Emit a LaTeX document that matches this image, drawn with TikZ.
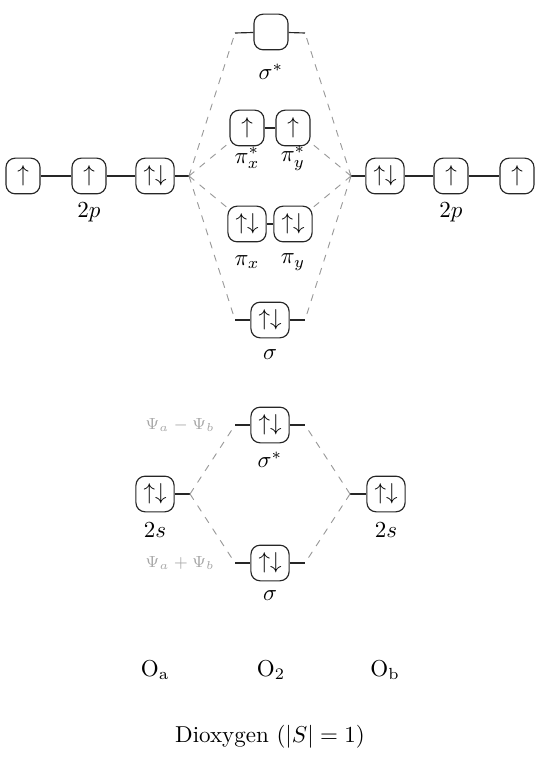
\documentclass[tikz,border=0pt]{standalone}
\begin{document}
\begin{tikzpicture}[x=0.43478pt,y=-0.43478pt,
  orb/.style={draw=black!85,line width=0.5pt,rounded corners=4pt,minimum width=14.8pt,minimum height=15.5pt,inner xsep=3.3pt,inner ysep=3pt},
  lvl/.style={draw=black!85,line width=0.5pt},
  corr/.style={draw=black!40,dashed,line width=0.4pt},
  psi/.style={text=black!35,font=\scriptsize}]
\useasboundingbox (0,0) rectangle (540,757);
% left 2p
\node[orb] (L1) at (23,176) {$\uparrow$};
\node[orb] (L2) at (89,176) {$\uparrow$};
\node[orb] (L3) at (155,176) {$\uparrow\downarrow$};
\coordinate (aL) at (189,176);
\node (L2lab) at (89,212) {$2p$};
% right 2p
\node[orb] (R3) at (385,176) {$\uparrow\downarrow$};
\node[orb] (R2) at (451,176) {$\uparrow$};
\node[orb] (R1) at (517,176) {$\uparrow$};
\coordinate (aR) at (351,176);
\node (R2lab) at (451,212) {$2p$};
% sigma* (2p)
\node[orb] (S1) at (271,32) {\phantom{$\uparrow$}};
\coordinate (S1l) at (235,33);
\coordinate (S1r) at (305,33);
\node (S1lab) at (271,72) {$\sigma^*$};
% pi*
\node[orb] (PSx) at (247,128) {$\uparrow$};
\node[orb] (PSy) at (293,128) {$\uparrow$};
\node (PSxlab) at (247,158) {$\pi_x^*$};
\node (PSylab) at (293,158) {$\pi_y^*$};
% pi
\node[orb] (Px) at (247,224) {$\uparrow\downarrow$};
\node[orb] (Py) at (293,224) {$\uparrow\downarrow$};
\node (Pxlab) at (247,262) {$\pi_x$};
\node (Pylab) at (293,262) {$\pi_y$};
% sigma (2p)
\node[orb] (S0) at (270,320) {$\uparrow\downarrow$};
\coordinate (S0l) at (235,320);
\coordinate (S0r) at (305,320);
\node (S0lab) at (270,355) {$\sigma$};
% levels
\draw[lvl] (L1) -- (L2);
\draw[lvl] (L2) -- (L3);
\draw[lvl] (L3) -- (aL);
\draw[lvl] (aR) -- (R3);
\draw[lvl] (R3) -- (R2);
\draw[lvl] (R2) -- (R1);
\draw[lvl] (S1l) -- (S1);
\draw[lvl] (S1) -- (S1r);
\draw[lvl] (PSx) -- (PSy);
\draw[lvl] (Px) -- (Py);
\draw[lvl] (S0l) -- (S0);
\draw[lvl] (S0) -- (S0r);
% correlation lines 2p
\draw[corr] (aL) -- (S1l);
\draw[corr] (aL) -- (PSx);
\draw[corr] (aL) -- (Px);
\draw[corr] (aL) -- (S0l);
\draw[corr] (aR) -- (S1r);
\draw[corr] (aR) -- (PSy);
\draw[corr] (aR) -- (Py);
\draw[corr] (aR) -- (S0r);
% 2s
\node[orb] (Ls) at (155,494) {$\uparrow\downarrow$};
\coordinate (aLs) at (190,494);
\node (Lslab) at (155,530) {$2s$};
\node[orb] (Rs) at (386,494) {$\uparrow\downarrow$};
\coordinate (aRs) at (350,494);
\node (Rslab) at (386,530) {$2s$};
\node[orb] (SS) at (270,425) {$\uparrow\downarrow$};
\coordinate (SSl) at (235,425);
\coordinate (SSr) at (305,425);
\node (SSlab) at (270,460) {$\sigma^*$};
\node[orb] (SB) at (270,563) {$\uparrow\downarrow$};
\coordinate (SBl) at (235,563);
\coordinate (SBr) at (305,563);
\node (SBlab) at (270,596) {$\sigma$};
\node[psi] (psim) at (180,425) {$\Psi_a - \Psi_b$};
\node[psi] (psip) at (180,563) {$\Psi_a + \Psi_b$};
\draw[lvl] (Ls) -- (aLs);
\draw[lvl] (aRs) -- (Rs);
\draw[lvl] (SSl) -- (SS);
\draw[lvl] (SS) -- (SSr);
\draw[lvl] (SBl) -- (SB);
\draw[lvl] (SB) -- (SBr);
\draw[corr] (aLs) -- (SSl);
\draw[corr] (aLs) -- (SBl);
\draw[corr] (aRs) -- (SSr);
\draw[corr] (aRs) -- (SBr);
% atom labels
\node (Oa) at (155,670) {$\mathrm{O_a}$};
\node (O2) at (271,670) {$\mathrm{O_2}$};
\node (Ob) at (385,670) {$\mathrm{O_b}$};
\node (title) at (270,737) {Dioxygen ($|S| = 1$)};
\end{tikzpicture}
\end{document}
